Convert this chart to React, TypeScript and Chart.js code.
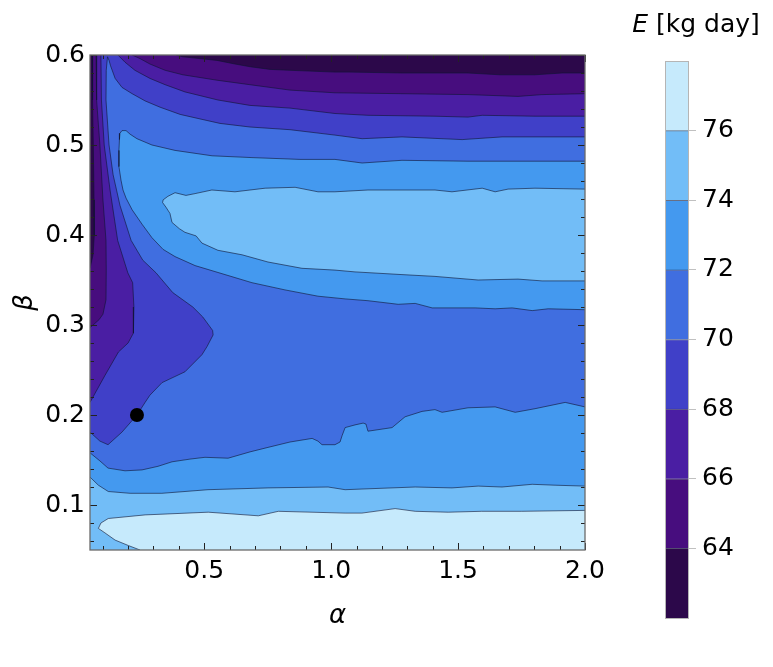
import React, { useEffect, useRef } from 'react';
import { Chart, registerables } from 'chart.js';

Chart.register(...registerables);

type P = [number, number];

// ---- data ----
const levels = [62, 64, 66, 68, 70, 72, 74, 76, 78];
const bandColors = ['#2c084a', '#470d7e', '#4a1ea3', '#4040c8', '#406ee0', '#4499ef', '#72bdf7', '#c6eafc'];
const colorbarTicks = [64, 66, 68, 70, 72, 74, 76];
const xTicks = [0.5, 1.0, 1.5, 2.0];
const yTicks = [0.1, 0.2, 0.3, 0.4, 0.5, 0.6];
const alphaRange: P = [0.05, 2.0];
const betaRange: P = [0.05, 0.6];
const optimumAlpha = [0.235];
const optimumBeta = [0.2];
const xLabel = 'α';
const yLabel = 'β';
const cbTitleVar = 'E';
const cbTitleUnit = ' [kg day]';

// contour lines (alpha, beta)
const contour64Left: P[] = [[0.060,0.600],[0.060,0.550],[0.063,0.500],[0.066,0.439],[0.067,0.400],[0.062,0.378],[0.050,0.363]];
const contour64Right: P[] = [[0.389,0.600],[0.416,0.598],[0.483,0.596],[0.550,0.594],[0.621,0.590],[0.680,0.587],[0.759,0.584],[0.838,0.583],[1.015,0.581],[1.074,0.581],[1.279,0.580],[1.539,0.580],[1.665,0.578],[1.803,0.578],[1.910,0.580],[2.0,0.580]];
const contour66Left: P[] = [[0.074,0.600],[0.076,0.550],[0.089,0.500],[0.101,0.439],[0.113,0.394],[0.114,0.361],[0.113,0.328],[0.101,0.312],[0.086,0.306],[0.050,0.297]];
const contour66Right: P[] = [[0.216,0.600],[0.247,0.596],[0.286,0.590],[0.346,0.583],[0.416,0.578],[0.550,0.572],[0.680,0.567],[0.838,0.561],[1.015,0.558],[1.279,0.557],[1.539,0.556],[1.736,0.554],[1.831,0.556],[2.0,0.557]];
const contour68Left: P[] = [[0.093,0.600],[0.095,0.550],[0.106,0.500],[0.129,0.450],[0.159,0.394],[0.199,0.358],[0.218,0.347],[0.223,0.320],[0.221,0.291],[0.200,0.280],[0.162,0.270],[0.109,0.244],[0.050,0.214]];
const contour68Right: P[] = [[0.160,0.600],[0.188,0.592],[0.227,0.583],[0.286,0.574],[0.346,0.567],[0.424,0.559],[0.554,0.550],[0.680,0.544],[0.838,0.541],[1.015,0.535],[1.145,0.533],[1.409,0.532],[1.539,0.531],[1.595,0.533],[1.803,0.532],[2.0,0.532]];
const contour70: P[] = [[0.050,0.181],[0.089,0.171],[0.121,0.167],[0.176,0.181],[0.235,0.200],[0.267,0.214],[0.286,0.222],[0.334,0.236],[0.424,0.248],[0.491,0.267],[0.511,0.276],[0.535,0.289],[0.533,0.294],[0.494,0.309],[0.455,0.320],[0.376,0.336],[0.310,0.358],[0.258,0.372],[0.212,0.394],[0.168,0.433],[0.141,0.467],[0.125,0.500],[0.113,0.550],[0.114,0.583],[0.119,0.598],[0.125,0.594],[0.131,0.588],[0.149,0.574],[0.176,0.564],[0.216,0.557],[0.267,0.549],[0.326,0.542],[0.405,0.534],[0.483,0.529],[0.562,0.524],[0.680,0.520],[0.838,0.517],[1.015,0.511],[1.122,0.507],[1.279,0.509],[1.516,0.506],[1.673,0.509],[2.0,0.509]];
const contour72Upper: P[] = [[2.0,0.482],[1.803,0.482],[1.539,0.482],[1.279,0.483],[1.122,0.480],[1.015,0.484],[0.877,0.484],[0.688,0.486],[0.531,0.488],[0.385,0.494],[0.294,0.500],[0.235,0.507],[0.208,0.512],[0.192,0.516],[0.176,0.516],[0.168,0.513],[0.166,0.506],[0.164,0.494],[0.164,0.476],[0.172,0.461],[0.180,0.450],[0.192,0.441],[0.216,0.428],[0.255,0.412],[0.294,0.397],[0.338,0.384],[0.385,0.376],[0.464,0.366],[0.582,0.356],[0.688,0.347],[0.818,0.339],[0.948,0.332],[1.055,0.329],[1.145,0.327],[1.264,0.323],[1.331,0.324],[1.398,0.319],[1.567,0.319],[1.646,0.318],[1.713,0.319],[1.792,0.316],[1.855,0.318],[2.0,0.317]];
const contour72Lower: P[] = [[0.050,0.158],[0.089,0.149],[0.121,0.141],[0.188,0.138],[0.255,0.139],[0.318,0.143],[0.373,0.148],[0.444,0.151],[0.503,0.153],[0.594,0.152],[0.680,0.159],[0.751,0.164],[0.838,0.170],[0.925,0.174],[0.948,0.171],[0.964,0.167],[1.015,0.167],[1.035,0.170],[1.043,0.177],[1.055,0.186],[1.094,0.189],[1.126,0.191],[1.137,0.190],[1.145,0.182],[1.240,0.186],[1.291,0.198],[1.358,0.204],[1.409,0.206],[1.437,0.203],[1.539,0.208],[1.646,0.209],[1.725,0.203],[1.803,0.207],[1.922,0.214],[2.0,0.209]];
const contour74Upper: P[] = [[2.0,0.451],[1.803,0.452],[1.697,0.451],[1.646,0.448],[1.595,0.452],[1.476,0.448],[1.409,0.450],[1.145,0.450],[1.015,0.448],[0.948,0.448],[0.858,0.453],[0.740,0.452],[0.621,0.448],[0.530,0.450],[0.464,0.446],[0.428,0.444],[0.385,0.447],[0.357,0.443],[0.338,0.439],[0.336,0.436],[0.349,0.431],[0.365,0.424],[0.373,0.414],[0.402,0.407],[0.424,0.403],[0.468,0.399],[0.491,0.391],[0.554,0.383],[0.649,0.378],[0.751,0.370],[0.885,0.363],[1.015,0.361],[1.094,0.359],[1.279,0.356],[1.409,0.354],[1.579,0.350],[1.736,0.351],[1.831,0.349],[2.0,0.349]];
const contour74Lower: P[] = [[0.050,0.131],[0.083,0.122],[0.122,0.115],[0.208,0.113],[0.333,0.113],[0.515,0.117],[0.751,0.119],[0.988,0.120],[1.055,0.117],[1.145,0.118],[1.331,0.120],[1.476,0.119],[1.579,0.121],[1.673,0.120],[1.792,0.123],[1.882,0.122],[2.0,0.121]];
const contour76: P[] = [[0.247,0.050],[0.201,0.055],[0.149,0.061],[0.109,0.069],[0.083,0.074],[0.093,0.080],[0.122,0.085],[0.267,0.089],[0.516,0.092],[0.713,0.088],[0.792,0.093],[1.055,0.091],[1.121,0.091],[1.252,0.096],[1.331,0.093],[1.461,0.092],[1.593,0.093],[1.751,0.093],[2.0,0.094]];

const contourLines: P[][] = [
  contour64Left, contour64Right, contour66Left, contour66Right, contour68Left, contour68Right,
  contour70, contour72Upper, contour72Lower, contour74Upper, contour74Lower, contour76,
];

// ---- styles ----
const FONT = "'DejaVu Sans', sans-serif";
const FS = 25;
const lineColor = 'rgba(15,20,50,0.6)';
const frameColor = '#6a6a6a';

const [A0, A1] = alphaRange;
const [B0, B1] = betaRange;
const rev = (a: P[]) => [...a].reverse();

// superlevel regions (value > level), painted in increasing order
const regions: { level: number; pts: P[] }[] = [
  { level: 62, pts: [[A0, B0], [A1, B0], [A1, B1], [A0, B1]] },
  { level: 64, pts: [...contour64Left, [A0, B0], [A1, B0], ...rev(contour64Right)] },
  { level: 66, pts: [...contour66Left, [A0, B0], [A1, B0], ...rev(contour66Right)] },
  { level: 68, pts: [...contour68Left, [A0, B0], [A1, B0], ...rev(contour68Right)] },
  { level: 70, pts: [...contour70, [A1, B0], [A0, B0]] },
  { level: 72, pts: [...contour72Upper] },
  { level: 72, pts: [...contour72Lower, [A1, B0], [A0, B0]] },
  { level: 74, pts: [...contour74Upper] },
  { level: 74, pts: [...contour74Lower, [A1, B0], [A0, B0]] },
  { level: 76, pts: [...contour76, [A1, B0]] },
];

const frameTicks = {
  id: 'frameTicks',
  afterDatasetsDraw(chart: any) {
    const { ctx, chartArea, scales } = chart;
    const { left, right, top, bottom } = chartArea;
    const x = scales.x, y = scales.y;
    ctx.save();
    ctx.strokeStyle = '#222';
    ctx.lineWidth = 1;
    const seg = (x0: number, y0: number, x1: number, y1: number) => {
      ctx.beginPath(); ctx.moveTo(x0, y0); ctx.lineTo(x1, y1); ctx.stroke();
    };
    const xt = (v: number, len: number) => {
      const px = Math.round(x.getPixelForValue(v)) + 0.5;
      seg(px, bottom, px, bottom - len); seg(px, top, px, top + len);
    };
    const yt = (v: number, len: number) => {
      const py = Math.round(y.getPixelForValue(v)) + 0.5;
      seg(left, py, left + len, py); seg(right, py, right - len, py);
    };
    for (let i = 1; i < 20; i++) { const v = i / 10; if (!xTicks.some(t => Math.abs(t - v) < 1e-6)) xt(v, 4); }
    xTicks.forEach(v => xt(v, 7));
    for (let i = 3; i < 30; i++) { const v = i / 50; if (!yTicks.some(t => Math.abs(t - v) < 1e-6)) yt(v, 4); }
    yTicks.forEach(v => yt(v, 7));
    ctx.strokeStyle = frameColor;
    ctx.lineWidth = 1.3;
    ctx.strokeRect(left, top, right - left, bottom - top);
    ctx.restore();
  },
};

const cbDecor = {
  id: 'cbDecor',
  afterDraw(chart: any) {
    const { ctx, chartArea } = chart;
    ctx.save();
    ctx.strokeStyle = '#b5b5b5';
    ctx.lineWidth = 1;
    ctx.strokeRect(chartArea.left + 0.5, chartArea.top + 0.5, chartArea.right - chartArea.left - 1, chartArea.bottom - chartArea.top);
    const it = `italic ${FS}px ${FONT}`;
    const nm = `${FS}px ${FONT}`;
    ctx.font = it; const w1 = ctx.measureText(cbTitleVar).width;
    ctx.font = nm; const w2 = ctx.measureText(cbTitleUnit).width;
    const cx = 86;
    const x0 = cx - (w1 + w2) / 2;
    ctx.fillStyle = '#000';
    ctx.textBaseline = 'alphabetic';
    ctx.font = it; ctx.fillText(cbTitleVar, x0, 32);
    ctx.font = nm; ctx.fillText(cbTitleUnit, x0 + w1, 32);
    ctx.restore();
  },
};

export default function App() {
  const mainRef = useRef<HTMLCanvasElement>(null);
  const cbRef = useRef<HTMLCanvasElement>(null);

  useEffect(() => {
    const tickFont = { family: FONT, size: FS };
    const datasets: any[] = regions.map((r, i) => ({
      type: 'line',
      data: r.pts.map(([x, y]) => ({ x, y })),
      fill: 'shape',
      backgroundColor: bandColors[levels.indexOf(r.level)],
      borderColor: 'rgba(0,0,0,0)',
      borderWidth: 0,
      pointRadius: 0,
      pointHoverRadius: 0,
      tension: 0,
      order: 100 - i,
    }));
    contourLines.forEach((c) => {
      datasets.push({
        type: 'line',
        data: c.map(([x, y]) => ({ x, y })),
        fill: false,
        borderColor: lineColor,
        borderWidth: 1,
        pointRadius: 0,
        pointHoverRadius: 0,
        tension: 0,
        order: 5,
      });
    });
    datasets.push({
      type: 'line',
      data: optimumAlpha.map((a, i) => ({ x: a, y: optimumBeta[i] })),
      showLine: false,
      pointRadius: 7,
      pointBackgroundColor: '#000',
      pointBorderWidth: 0,
      order: 0,
    });

    const main = new Chart(mainRef.current as HTMLCanvasElement, {
      type: 'line',
      data: { datasets },
      plugins: [frameTicks],
      options: {
        animation: false,
        responsive: false,
        devicePixelRatio: 1,
        layout: { padding: { left: 0, top: 55, right: 188, bottom: 0 } },
        plugins: { legend: { display: false }, tooltip: { enabled: false } },
        scales: {
          x: {
            type: 'linear',
            min: A0,
            max: A1,
            afterBuildTicks: (s: any) => { s.ticks = xTicks.map(v => ({ value: v })); },
            afterFit: (s: any) => { s.height = 117; },
            ticks: { font: tickFont, color: '#000', padding: 6, maxRotation: 0, autoSkip: false, callback: (v: any) => Number(v).toFixed(1) },
            grid: { display: false, drawTicks: false },
            border: { display: false },
            title: { display: true, text: xLabel, color: '#000', font: { family: FONT, size: 26, style: 'italic', lineHeight: 1.2 }, padding: { top: 0, bottom: 35 } },
          },
          y: {
            type: 'linear',
            min: B0,
            max: B1,
            afterBuildTicks: (s: any) => { s.ticks = yTicks.map(v => ({ value: v })); },
            afterFit: (s: any) => { s.width = 90; },
            ticks: { font: tickFont, color: '#000', padding: 5, autoSkip: false, callback: (v: any) => Number(v).toFixed(1) },
            grid: { display: false, drawTicks: false },
            border: { display: false },
            title: { display: true, text: yLabel, color: '#000', font: { family: FONT, size: 26, style: 'italic', lineHeight: 1.2 }, padding: { top: 10, bottom: 0 } },
          },
        },
      } as any,
    });

    const cb = new Chart(cbRef.current as HTMLCanvasElement, {
      type: 'bar',
      data: {
        labels: [''],
        datasets: bandColors.map((c, i) => ({
          data: [[levels[i], levels[i + 1]]],
          backgroundColor: c,
          borderColor: lineColor,
          borderWidth: i < bandColors.length - 1 ? { top: 1, right: 0, bottom: 0, left: 0 } : 0,
          borderSkipped: false,
          grouped: false,
          barPercentage: 1,
          categoryPercentage: 1,
        })) as any,
      },
      plugins: [cbDecor],
      options: {
        animation: false,
        responsive: false,
        devicePixelRatio: 1,
        layout: { padding: { left: 55, top: 61, right: 0, bottom: 49 } },
        plugins: { legend: { display: false }, tooltip: { enabled: false } },
        scales: {
          x: { display: false },
          y: {
            position: 'right',
            min: levels[0],
            max: levels[levels.length - 1],
            afterBuildTicks: (s: any) => { s.ticks = colorbarTicks.map(v => ({ value: v })); },
            afterFit: (s: any) => { s.width = 84; },
            ticks: { font: tickFont, color: '#000', padding: 6, autoSkip: false },
            grid: { drawOnChartArea: false, drawTicks: true, tickLength: 7, color: '#c0c0c0', lineWidth: 1 },
            border: { display: false },
          },
        },
      } as any,
    });

    return () => { main.destroy(); cb.destroy(); };
  }, []);

  return (
    <div style={{ position: 'absolute', left: 0, top: 0, width: 773, height: 667, background: '#fff' }}>
      <canvas ref={mainRef} width={773} height={667} style={{ position: 'absolute', left: 0, top: 0 }} />
      <canvas ref={cbRef} width={163} height={667} style={{ position: 'absolute', left: 610, top: 0 }} />
    </div>
  );
}
